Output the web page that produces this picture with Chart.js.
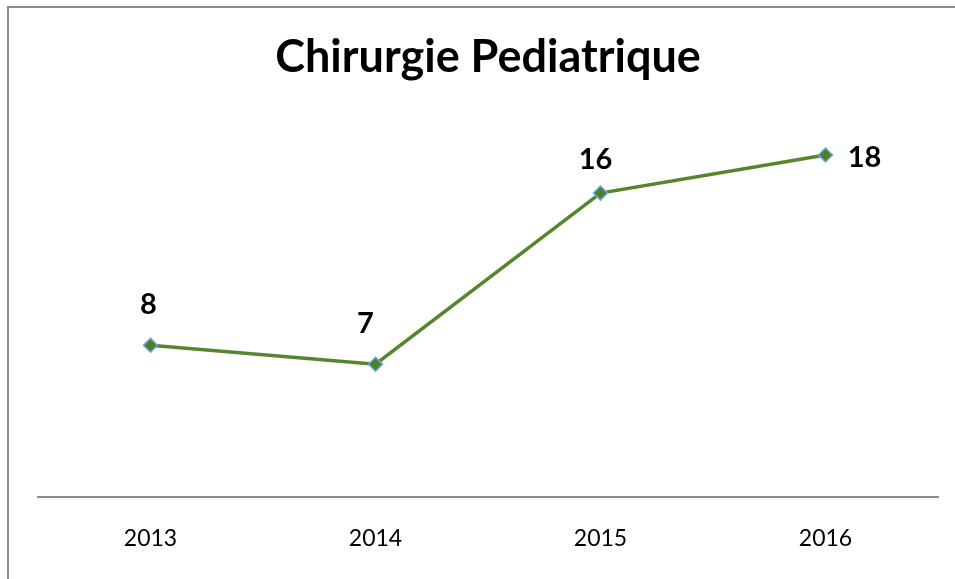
<!DOCTYPE html>
<html>
<head>
<meta charset="utf-8">
<script src="https://cdn.jsdelivr.net/npm/chart.js@4.4.1/dist/chart.umd.min.js"></script>
<style>
	html, body { margin: 0; padding: 0; background: #fff; }
	#wrap { position: relative; width: 955px; height: 579px; }
	#frame {
		position: absolute; left: 7px; top: 6px; right: 0; bottom: 0;
		border-top: 2px solid #8c8c8c; border-left: 2px solid #8c8c8c;
		pointer-events: none;
	}
</style>
</head>
<body>
<div id="wrap">
	<canvas id="chart" width="955" height="579"></canvas>
	<div id="frame"></div>
</div>
<script>
const years = ['2013', '2014', '2015', '2016'];
const cases = [8, 7, 16, 18];
const chart_title = 'Chirurgie Pediatrique';

// draw the value near each point (shifts picked by eye from the original)
const value_labels = {
	id: 'value_labels',
	afterDatasetsDraw(chart) {
		const shifts = [[-2, -41], [-10, -41], [-5, -33], [39, 3]];
		const ctx = chart.ctx;
		const meta = chart.getDatasetMeta(0);
		ctx.save();
		ctx.font = 'bold 29px Lato';
		ctx.fillStyle = '#000';
		ctx.textAlign = 'center';
		ctx.textBaseline = 'middle';
		meta.data.forEach((pt, i) => {
			ctx.fillText(cases[i], pt.x + shifts[i][0], pt.y + shifts[i][1]);
		});
		ctx.restore();
	}
};

new Chart(document.getElementById('chart'), {
	type: 'line',
	data: {
		labels: years,
		datasets: [{
			data: cases,
			borderColor: '#55862e',
			borderWidth: 3.5,
			pointStyle: 'rectRot',
			pointRadius: 7,
			pointBackgroundColor: '#4f7f2c',
			pointBorderColor: '#6aa6e0',
			pointBorderWidth: 1.5,
			tension: 0
		}]
	},
	options: {
		responsive: false,
		animation: false,
		layout: { padding: { left: 38, right: 17, top: 0, bottom: 8 } },
		plugins: {
			legend: { display: false },
			tooltip: { enabled: false },
			title: {
				display: true,
				text: chart_title,
				color: '#000',
				font: { family: 'Lato', size: 45, weight: 'bold', lineHeight: 1.2 },
				padding: { top: 30, bottom: 33 }
			}
		},
		scales: {
			x: {
				offset: true,
				grid: { display: false },
				border: { display: true, color: '#8c8c8c', width: 2 },
				ticks: {
					color: '#000',
					padding: 19,
					maxRotation: 0,
					font: { family: 'Lato', size: 23 }
				}
			},
			y: {
				display: false,
				min: 0,
				max: 20
			}
		}
	},
	plugins: [value_labels]
});
</script>
</body>
</html>
